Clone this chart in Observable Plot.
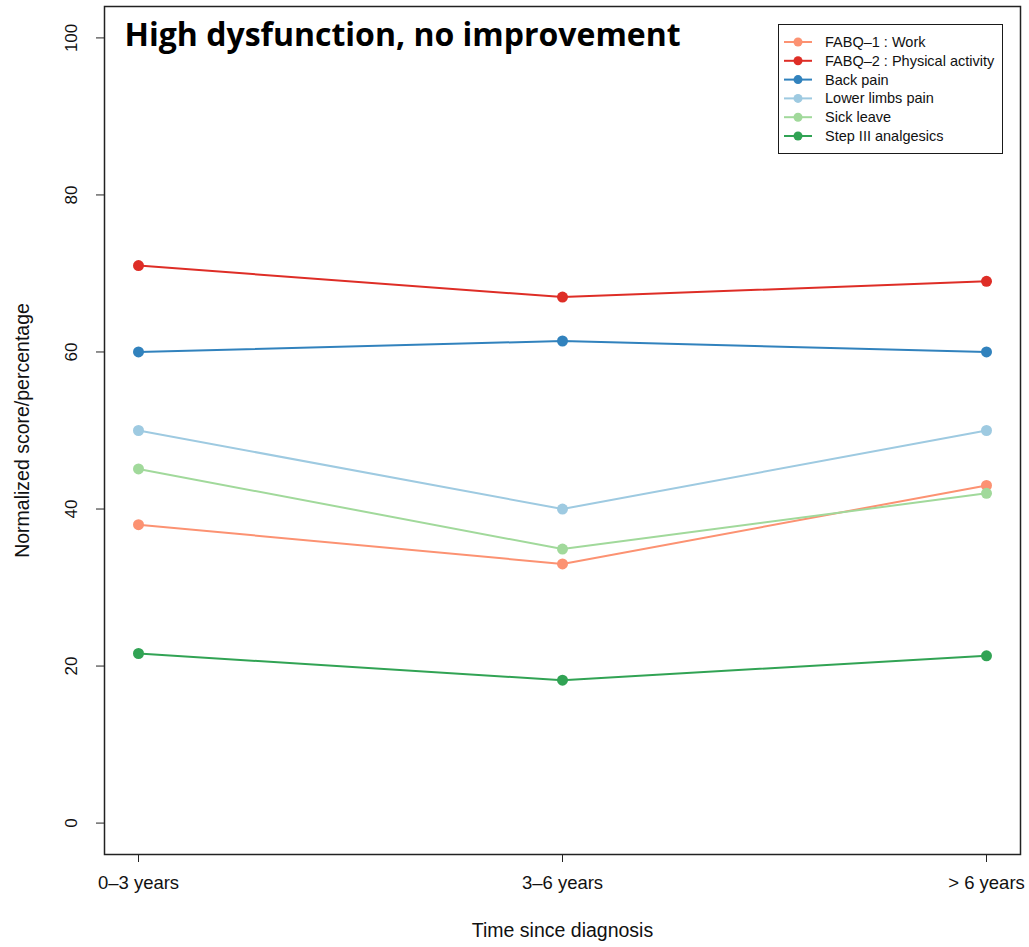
<!DOCTYPE html>
<html><head><meta charset="utf-8">
<script src="https://cdn.jsdelivr.net/npm/d3@7"></script>
<script src="https://cdn.jsdelivr.net/npm/@observablehq/plot@0.6"></script>
<style>
body{margin:0;background:#fff;}
#wrap{position:relative;width:1029px;height:947px;}
#legend{position:absolute;left:778px;top:24px;width:223px;height:128px;border:1.5px solid #1a1a1a;background:#fff;font-family:"Liberation Sans",Arial,sans-serif;font-size:14.5px;color:#111;}
</style></head><body><div id="wrap"></div>
<script>
const categories = ["0–3 years", "3–6 years", "> 6 years"];
const seriesNames = ["FABQ–1 : Work", "FABQ–2 : Physical activity", "Back pain", "Lower limbs pain", "Sick leave", "Step III analgesics"];
const fabq1 = [38, 33, 43];
const fabq2 = [71, 67, 69];
const backPain = [60, 61.4, 60];
const lowerLimbs = [50, 40, 50];
const sickLeave = [45.1, 34.9, 42];
const step3 = [21.6, 18.2, 21.3];
const colors = ["#FC9272", "#DE2D26", "#3182BD", "#9ECAE1", "#A1D99B", "#31A354"];
const yTicks = [0, 20, 40, 60, 80, 100];
const titleText = "High dysfunction, no improvement";
const xLabel = "Time since diagnosis";
const yLabel = "Normalized score/percentage";

const seriesValues = [fabq1, fabq2, backPain, lowerLimbs, sickLeave, step3];
const data = seriesValues.flatMap((vals, s) => vals.map((v, i) => ({series: seriesNames[s], time: categories[i], value: v})));

const chart = Plot.plot({
  width: 1029, height: 947,
  marginLeft: 104, marginRight: 9, marginTop: 6, marginBottom: 93,
  style: {fontFamily: "'Liberation Sans', Arial, sans-serif", background: "#fff", color: "#111"},
  x: {type: "point", domain: categories, padding: 0.08},
  y: {domain: [-4, 104]},
  color: {domain: seriesNames, range: colors},
  marks: [
    Plot.frame({stroke: "#222", strokeWidth: 1.5}),
    Plot.axisY({ticks: yTicks, tickSize: 8, tickRotate: -90, tickPadding: 20, fontSize: 17, label: null, stroke: "#222"}),
    Plot.axisX({tickSize: 8, tickPadding: 13, fontSize: 18.5, label: null, stroke: "#222"}),
    Plot.line(data, {x: "time", y: "value", z: "series", stroke: "series", strokeWidth: 2}),
    Plot.dot(data, {x: "time", y: "value", fill: "series", r: 5.5}),
    Plot.text([xLabel], {text: d => d, frameAnchor: "bottom", dy: 82, fontSize: 19.5}),
    Plot.text([yLabel], {text: d => d, frameAnchor: "left", dx: -82, rotate: -90, textAnchor: "middle", fontSize: 19.5}),
    Plot.text([titleText], {text: d => d, frameAnchor: "top-left", dx: 20, dy: 17, lineAnchor: "top", textAnchor: "start", fontSize: 32, fontWeight: "bold", fontFamily: "'Open Sans', 'Noto Sans', sans-serif", fill: "#000"})
  ]
});

const wrap = document.getElementById("wrap");
wrap.appendChild(chart);

const legend = d3.select(wrap).append("div").attr("id", "legend");
const lsvg = legend.append("svg").attr("width", 223).attr("height", 128).style("position", "absolute").style("left", "0").style("top", "0");
seriesNames.forEach((name, i) => {
  const cy = 17 + i * 18.8;
  const g = lsvg.append("g");
  g.append("line").attr("x1", 5).attr("x2", 33).attr("y1", cy).attr("y2", cy).attr("stroke", colors[i]).attr("stroke-width", 2);
  g.append("circle").attr("cx", 19).attr("cy", cy).attr("r", 4.5).attr("fill", colors[i]);
  g.append("text").attr("x", 46).attr("y", cy).attr("dy", "0.35em").attr("font-size", 14.5).attr("font-family", "'Liberation Sans', Arial, sans-serif").attr("fill", "#111").text(name);
});
</script></body></html>
